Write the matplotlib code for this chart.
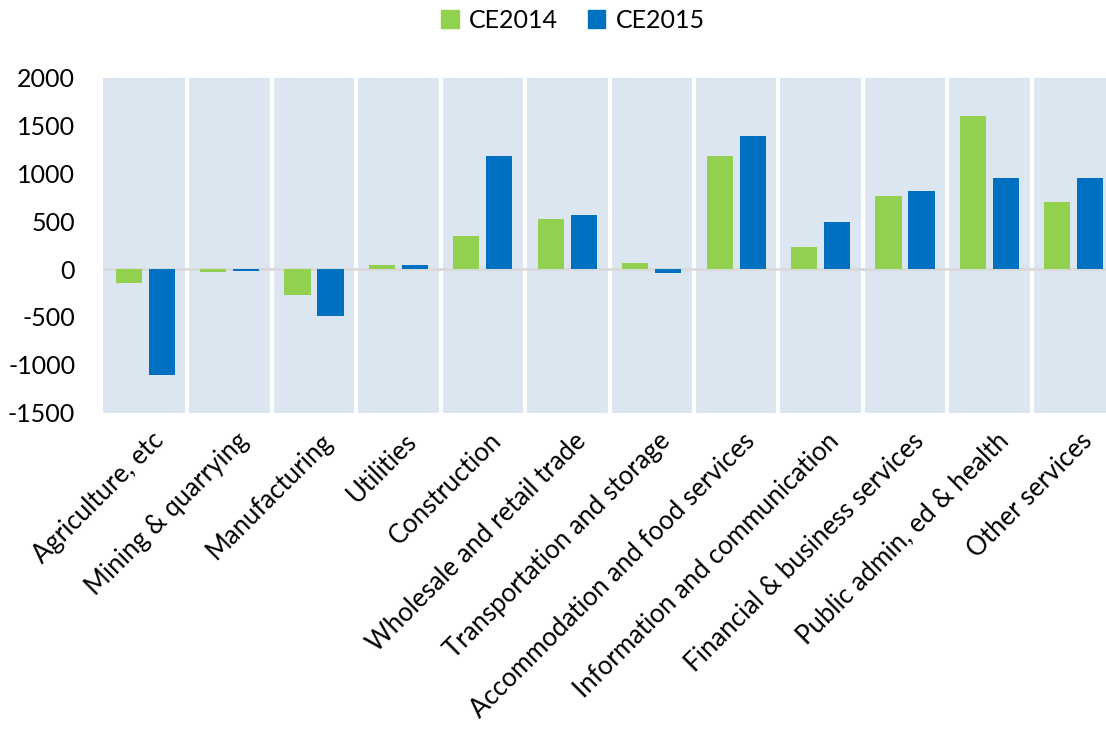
import numpy as np
import matplotlib
matplotlib.use("Agg")
import matplotlib.pyplot as plt
import matplotlib.transforms as mtrans
from matplotlib.patches import Patch

plt.rcParams['font.family'] = ['Lato', 'DejaVu Sans']
plt.rcParams['axes.unicode_minus'] = False

# data
sectors = ['Agriculture, etc', 'Mining & quarrying', 'Manufacturing', 'Utilities',
           'Construction', 'Wholesale and retail trade', 'Transportation and storage',
           'Accommodation and food services', 'Information and communication',
           'Financial & business services', 'Public admin, ed & health', 'Other services']
ce2014 = [-150, -35, -272, 42, 348, 526, 66, 1177, 226, 763, 1599, 704]
ce2015 = [-1108, -15, -488, 40, 1181, 561, -38, 1393, 488, 815, 951, 951]

green = '#92D050'
blue = '#0070C0'

fig = plt.figure(figsize=(11.06, 7.29), dpi=100)
ax = fig.add_axes([103/1106, 316.3/729, 1013/1106, 335/729])
ax.set_facecolor('#DCE6F1')

x = np.arange(len(sectors))
w = 0.31
off = 0.195
ax.bar(x - off, ce2014, w, color=green, zorder=3)
ax.bar(x + off, ce2015, w, color=blue, zorder=3)

# white separators between categories
for b in np.arange(0.5, len(sectors) - 0.5, 1):
    ax.axvline(b, color='white', lw=3, zorder=2)
ax.axhline(0, color='#D9D9D9', lw=2, zorder=2.5)

ax.set_xlim(-0.5, len(sectors) - 0.5)
ax.set_ylim(-1500, 2000)
ax.set_yticks(range(-1500, 2001, 500))
ax.tick_params(axis='y', length=0, pad=20, labelsize=18)
ax.tick_params(axis='x', length=0, pad=11)
ax.set_xticks(x)
ax.set_xticklabels(sectors, rotation=45, ha='right', rotation_mode='anchor', fontsize=18.5)
shift = mtrans.ScaledTranslation(6/100, 0, fig.dpi_scale_trans)
for lab in ax.get_xticklabels():
    lab.set_transform(lab.get_transform() + shift)
for s in ax.spines.values():
    s.set_visible(False)

handles = [Patch(color=green, label='CE2014'), Patch(color=blue, label='CE2015')]
fig.legend(handles=handles, loc='center', bbox_to_anchor=(573/1106, 1 - 20/729), ncol=2,
           frameon=False, fontsize=18, handlelength=0.7, handleheight=0.7,
           handletextpad=0.4, columnspacing=1.2)

fig.savefig('out.png', dpi=100)
